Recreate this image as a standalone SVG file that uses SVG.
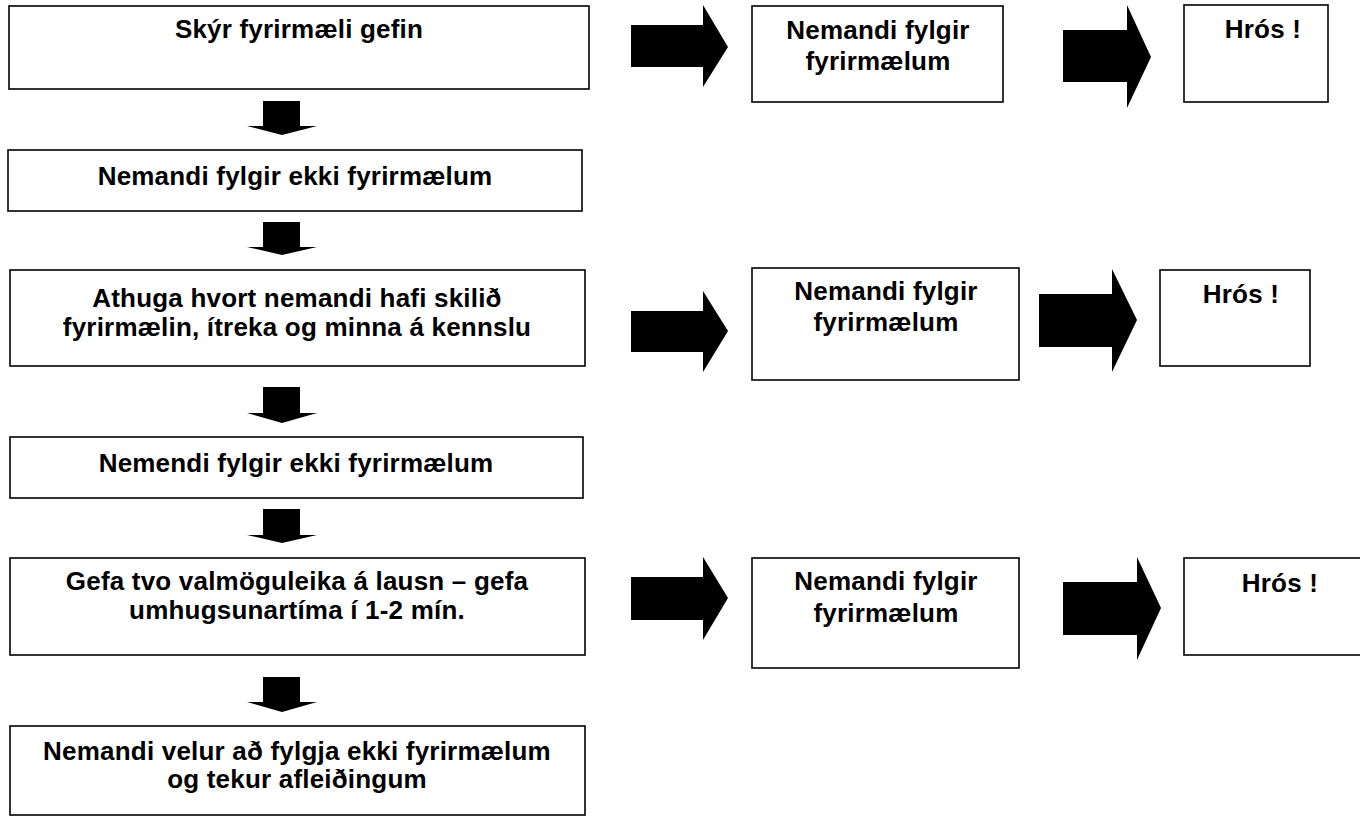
<svg xmlns="http://www.w3.org/2000/svg" width="1360" height="820" viewBox="0 0 1360 820">
<style>
.box{fill:#fff;stroke:#000;stroke-width:1.6}
.arr{fill:#000;stroke:none}
text{font-family:"Liberation Sans",Arial,sans-serif;font-weight:bold;font-size:26px;fill:#000;text-anchor:middle;letter-spacing:0.2px}
</style>
<rect width="1360" height="820" fill="#fff"/>
<g id="connectors">
<path class="arr" d="M263,101H300V126H317L282,135L247,126H263Z"/>
<path class="arr" d="M263,222H300V247H317L282,255L247,247H263Z"/>
<path class="arr" d="M263,387H300V413H317L282,423L247,413H263Z"/>
<path class="arr" d="M263,509H300V535H317L282,543L247,535H263Z"/>
<path class="arr" d="M263,677H300V702H317L282,712L247,702H263Z"/>
<path class="arr" d="M631,25H703V5L728,47L703,87V67H631Z"/>
<path class="arr" d="M1063,30H1127V5L1151,57L1127,108V82H1063Z"/>
<path class="arr" d="M631,311H703V291L728,331L703,372V352H631Z"/>
<path class="arr" d="M1039,294H1112V269L1137,320L1112,372V347H1039Z"/>
<path class="arr" d="M631,577H703V557L728,598L703,640V620H631Z"/>
<path class="arr" d="M1063,582H1137V557L1161,608L1137,660V635H1063Z"/>
</g>
<g id="n1"><rect class="box" x="9" y="6" width="580" height="83"/><text x="299" y="38">Skýr fyrirmæli gefin</text></g>
<g id="n2"><rect class="box" x="8" y="150" width="574" height="61"/><text x="295" y="185">Nemandi fylgir ekki fyrirmælum</text></g>
<g id="n3"><rect class="box" x="10" y="270" width="575" height="96"/><text x="297" y="307">Athuga hvort nemandi hafi skilið</text><text x="297" y="336">fyrirmælin, ítreka og minna á kennslu</text></g>
<g id="n4"><rect class="box" x="10" y="437" width="573" height="61"/><text x="296" y="472">Nemendi fylgir ekki fyrirmælum</text></g>
<g id="n5"><rect class="box" x="10" y="558" width="575" height="97"/><text x="297" y="590">Gefa tvo valmöguleika á lausn – gefa</text><text x="297" y="619">umhugsunartíma í 1-2 mín.</text></g>
<g id="n6"><rect class="box" x="10" y="726" width="575" height="89"/><text x="297" y="760">Nemandi velur að fylgja ekki fyrirmælum</text><text x="297" y="788">og tekur afleiðingum</text></g>
<g id="r1a"><rect class="box" x="752" y="6" width="251" height="96"/><text x="878" y="39">Nemandi fylgir</text><text x="878" y="70">fyrirmælum</text></g>
<g id="r1b"><rect class="box" x="1184" y="5" width="144" height="97"/><text x="1263" y="38">Hrós !</text></g>
<g id="r2a"><rect class="box" x="752" y="268" width="267" height="112"/><text x="886" y="300">Nemandi fylgir</text><text x="886" y="331">fyrirmælum</text></g>
<g id="r2b"><rect class="box" x="1160" y="270" width="150" height="96"/><text x="1241" y="303">Hrós !</text></g>
<g id="r3a"><rect class="box" x="752" y="558" width="267" height="110"/><text x="886" y="590">Nemandi fylgir</text><text x="886" y="622">fyrirmælum</text></g>
<g id="r3b"><rect class="box" x="1184" y="558" width="180" height="97"/><text x="1280" y="592">Hrós !</text></g>
</svg>
